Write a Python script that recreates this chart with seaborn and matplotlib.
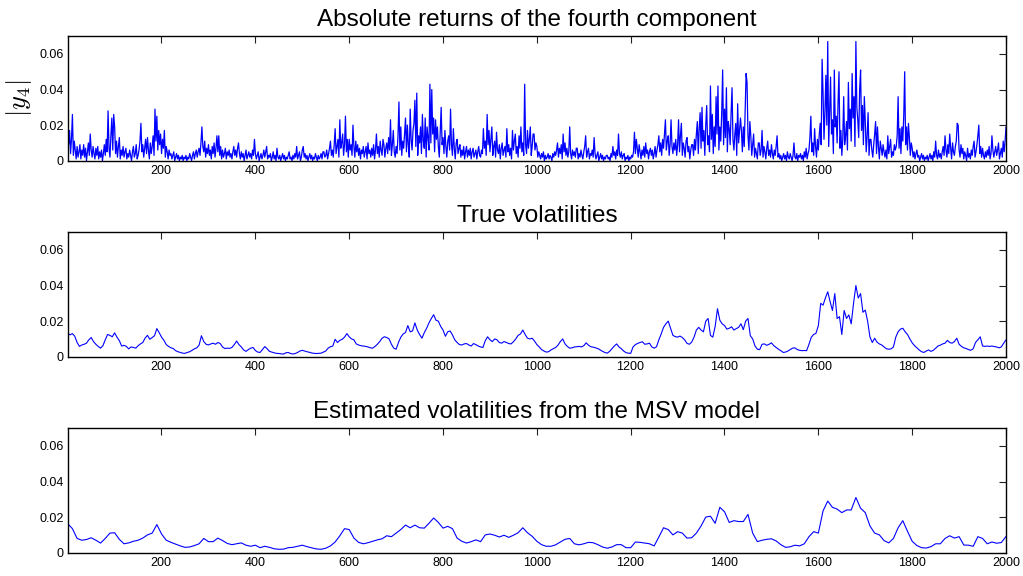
import numpy as np
import pandas as pd
import matplotlib
matplotlib.use("Agg")
import matplotlib.pyplot as plt
import seaborn as sns

# ---------------------------------------------------------------------------
# Series (absolute returns in units of 1e-3, volatilities in units of 1e-4)
# ---------------------------------------------------------------------------
abs_returns_milli = [
    28, 9, 17, 4, 12, 26, 3, 11, 6, 1, 8, 2, 5, 9, 1, 6, 3, 9, 2, 7, 0, 5, 10, 3, 15,
    6, 2, 8, 4, 1, 7, 3, 8, 1, 5, 2, 6, 0, 4, 9, 3, 12, 5, 28, 7, 2, 14, 24, 6, 26,
    19, 4, 11, 2, 8, 13, 1, 6, 3, 8, 2, 5, 7, 1, 4, 2, 6, 3, 0, 5, 8, 2, 4, 9, 1,
    3, 6, 11, 21, 5, 9, 2, 7, 12, 4, 13, 6, 1, 10, 4, 8, 14, 3, 29, 11, 25, 6, 17, 9, 15,
    4, 12, 7, 17, 2, 8, 5, 1, 6, 3, 4, 1, 3, 5, 0, 2, 4, 1, 3, 0, 2, 1, 3, 0, 2,
    1, 3, 0, 2, 1, 4, 2, 0, 3, 5, 1, 4, 6, 2, 5, 7, 3, 10, 19, 8, 5, 11, 2, 7, 4,
    9, 3, 6, 1, 8, 4, 10, 2, 7, 14, 5, 14, 3, 8, 1, 6, 2, 4, 7, 1, 5, 3, 6, 2, 4,
    1, 5, 8, 3, 6, 2, 7, 10, 4, 1, 5, 2, 4, 0, 3, 6, 1, 3, 5, 2, 4, 1, 6, 3, 12,
    4, 1, 3, 5, 0, 2, 4, 1, 3, 6, 2, 5, 8, 1, 3, 2, 4, 0, 2, 5, 1, 3, 0, 7, 2,
    1, 3, 0, 2, 4, 1, 3, 0, 2, 1, 3, 5, 1, 2, 0, 3, 1, 4, 2, 8, 1, 3, 5, 0, 2,
    6, 8, 2, 4, 1, 3, 0, 2, 4, 1, 3, 0, 2, 1, 4, 2, 0, 3, 1, 2, 4, 1, 5, 5, 2,
    3, 6, 1, 4, 7, 11, 3, 6, 2, 9, 18, 4, 8, 12, 2, 23, 7, 10, 15, 3, 9, 25, 5, 12, 2,
    12, 6, 9, 3, 20, 8, 2, 11, 5, 9, 3, 7, 1, 6, 4, 8, 2, 5, 8, 1, 10, 4, 6, 2, 7,
    3, 9, 1, 6, 15, 4, 8, 2, 11, 6, 3, 12, 9, 2, 7, 10, 4, 13, 6, 23, 3, 9, 17, 5, 2,
    8, 4, 14, 33, 6, 19, 3, 11, 7, 15, 24, 5, 20, 9, 2, 29, 12, 6, 17, 21, 34, 8, 38, 3, 14,
    10, 19, 4, 26, 11, 7, 24, 2, 19, 13, 6, 43, 10, 40, 15, 24, 5, 23, 12, 19, 8, 2, 16, 30, 9,
    13, 4, 17, 8, 2, 11, 14, 6, 29, 9, 3, 18, 7, 1, 10, 12, 4, 7, 9, 2, 6, 3, 8, 1, 5,
    8, 2, 6, 3, 7, 1, 5, 7, 2, 4, 6, 1, 5, 8, 3, 2, 6, 4, 18, 7, 11, 3, 26, 9, 17,
    5, 12, 19, 3, 8, 11, 2, 16, 6, 4, 9, 1, 7, 10, 3, 6, 8, 2, 18, 5, 9, 3, 7, 1, 17,
    6, 11, 15, 4, 8, 2, 14, 7, 19, 5, 10, 3, 43, 9, 4, 17, 7, 12, 19, 3, 8, 15, 15, 6, 10,
    8, 2, 5, 3, 1, 4, 2, 5, 0, 3, 1, 2, 4, 1, 3, 2, 0, 4, 2, 5, 3, 6, 10, 2, 7,
    4, 9, 1, 15, 5, 10, 3, 7, 2, 5, 19, 4, 1, 6, 3, 5, 2, 7, 7, 1, 4, 2, 6, 3, 1,
    5, 8, 14, 2, 5, 7, 1, 4, 3, 6, 2, 13, 4, 1, 3, 5, 0, 2, 4, 1, 3, 0, 2, 1, 3,
    3, 1, 2, 0, 4, 2, 8, 3, 5, 1, 6, 3, 15, 4, 2, 5, 1, 3, 4, 0, 2, 1, 3, 0, 2,
    1, 3, 2, 5, 16, 4, 12, 7, 2, 9, 5, 1, 6, 3, 8, 2, 10, 4, 6, 1, 5, 7, 3, 6, 1,
    4, 8, 2, 6, 9, 14, 5, 10, 3, 12, 7, 15, 23, 6, 11, 14, 3, 9, 23, 8, 4, 10, 6, 12, 3,
    9, 23, 5, 14, 21, 3, 10, 7, 2, 11, 13, 5, 8, 1, 6, 9, 9, 3, 12, 6, 15, 22, 4, 18, 27,
    7, 30, 11, 17, 3, 20, 31, 9, 14, 5, 42, 12, 26, 4, 19, 8, 36, 15, 42, 6, 19, 11, 27, 51, 9,
    29, 13, 41, 5, 22, 18, 9, 27, 41, 12, 6, 15, 21, 3, 32, 10, 17, 24, 17, 5, 19, 8, 28, 49, 44,
    14, 6, 22, 14, 3, 9, 15, 2, 7, 4, 1, 10, 10, 3, 6, 17, 2, 8, 5, 1, 7, 11, 3, 6, 2,
    9, 4, 1, 6, 3, 8, 14, 2, 4, 1, 3, 0, 2, 4, 1, 3, 0, 5, 2, 1, 4, 2, 0, 3, 10,
    2, 1, 4, 0, 3, 2, 4, 1, 3, 0, 5, 2, 7, 1, 4, 6, 13, 25, 5, 10, 3, 18, 8, 2, 12,
    6, 15, 21, 9, 57, 38, 12, 27, 48, 20, 67, 8, 27, 47, 15, 23, 4, 51, 19, 25, 10, 33, 50, 7, 17,
    3, 12, 36, 9, 14, 22, 6, 44, 18, 29, 11, 49, 24, 36, 8, 67, 30, 23, 13, 40, 51, 17, 31, 9, 36,
    22, 5, 14, 27, 3, 12, 12, 6, 2, 9, 15, 22, 4, 19, 8, 1, 11, 7, 3, 9, 5, 2, 6, 1, 14,
    4, 8, 12, 2, 5, 3, 9, 6, 8, 14, 36, 7, 18, 4, 19, 11, 25, 50, 9, 19, 6, 21, 13, 3, 10,
    7, 2, 5, 1, 4, 6, 2, 3, 0, 2, 4, 1, 3, 0, 2, 1, 3, 0, 2, 4, 1, 3, 0, 5, 2,
    11, 3, 1, 6, 2, 4, 1, 5, 8, 3, 14, 6, 2, 9, 4, 15, 7, 1, 10, 5, 3, 8, 11, 21, 20,
    6, 2, 9, 4, 7, 1, 5, 3, 0, 7, 2, 4, 1, 6, 3, 8, 11, 2, 5, 9, 14, 20, 4, 8, 2,
    7, 3, 1, 5, 2, 6, 3, 8, 1, 4, 14, 6, 2, 5, 8, 3, 6, 10, 1, 4, 7, 2, 11, 5, 11,
    19,
]

true_vol_e4 = [
    132, 123, 130, 115, 80, 58, 66, 70, 76, 95, 108, 85, 70, 58, 48, 62, 95, 125, 120, 112,
    134, 110, 90, 60, 64, 58, 44, 55, 52, 48, 62, 72, 80, 105, 120, 98, 108, 118, 158, 135,
    110, 92, 68, 58, 50, 46, 34, 28, 24, 20, 19, 24, 28, 36, 44, 50, 65, 118, 85, 70,
    66, 72, 76, 70, 80, 74, 55, 46, 48, 47, 52, 68, 88, 68, 55, 38, 30, 40, 48, 52,
    35, 26, 24, 40, 57, 45, 30, 26, 22, 19, 18, 16, 15, 22, 24, 18, 15, 18, 24, 32,
    36, 32, 28, 25, 21, 19, 18, 19, 20, 26, 32, 48, 56, 60, 98, 80, 92, 98, 110, 130,
    112, 100, 95, 72, 66, 62, 60, 58, 55, 50, 48, 58, 70, 85, 104, 112, 108, 100, 70, 48,
    42, 80, 110, 128, 136, 175, 140, 145, 190, 150, 125, 104, 135, 160, 190, 215, 236, 205, 200, 170,
    150, 115, 140, 145, 123, 95, 80, 68, 66, 72, 74, 66, 60, 74, 68, 60, 55, 52, 90, 112,
    95, 85, 100, 95, 80, 76, 85, 80, 74, 72, 84, 100, 120, 128, 150, 125, 104, 100, 104, 88,
    68, 55, 40, 32, 26, 28, 38, 45, 52, 65, 85, 100, 72, 58, 48, 50, 55, 56, 58, 55,
    62, 78, 65, 56, 54, 50, 46, 38, 30, 24, 20, 30, 45, 60, 72, 55, 45, 32, 23, 20,
    19, 55, 68, 75, 80, 84, 70, 72, 76, 55, 48, 56, 95, 128, 165, 185, 200, 160, 120, 113,
    110, 116, 108, 95,
    75, 70, 82, 110, 150, 165, 150, 140, 200, 215, 120, 110, 170, 270, 205, 185,
    175, 155, 160, 168, 150, 158, 165, 185, 152, 200, 215, 118, 100, 60, 42, 40, 70, 72, 64, 70,
    78, 62, 52, 42, 34, 24, 26, 32, 40, 48, 50, 40, 36, 34, 35, 34, 70, 110, 125, 132,
    175, 300, 290, 330, 365, 310, 260, 355, 215, 225, 125, 260, 215, 235, 185, 300, 400, 330, 355, 250,
    262, 200, 110, 80, 104, 82, 72, 66, 55, 45, 42, 44, 55, 110, 140, 155, 160, 140, 125, 100,
    78, 62, 50, 38, 28, 24, 32, 38, 30, 36, 48, 60, 65, 72, 76, 92, 80, 76, 85, 104,
    70, 58, 50, 46, 40, 36, 45, 80, 95, 112, 60, 58, 60, 58, 60, 57, 55, 50, 55, 76,
    95,
]

est_vol_e4 = [
    163, 135, 80, 70, 74, 84, 70, 54, 80, 110, 112, 75, 50, 55, 64, 70, 82, 100, 110, 158,
    105, 70, 58, 48, 38, 30, 32, 40, 50, 80, 62, 62, 82, 68, 52, 45, 50, 55, 42, 36,
    42, 28, 36, 30, 22, 19, 20, 28, 30, 36, 42, 34, 27, 21, 19, 25, 38, 60, 95, 135,
    130,
    82, 58, 50, 56, 64, 72, 78, 95, 90, 110, 130, 155, 140, 155, 140, 138, 165, 195, 170, 138,
    148, 135, 82, 64, 54, 62, 72, 62, 100, 105, 98, 88, 98, 86, 98, 112, 140, 112, 92, 64,
    45, 36, 36, 44, 60, 75, 80, 50, 44, 50, 58, 56, 45, 32, 25, 32, 45, 45, 28, 28,
    60, 58, 54, 50, 38, 88, 140, 130, 100, 118, 110, 82,
    84, 110, 150, 200, 205, 165, 255, 230, 170, 180, 175, 175, 215, 110, 62, 70, 75, 78, 66, 45,
    30, 33, 42, 38, 50, 90, 118, 110, 235, 290, 255, 245, 225, 240, 240, 310, 250, 225, 150, 110,
    100, 68, 55, 80, 140, 180, 120, 64, 40, 28, 26, 34, 50, 50, 80, 95, 82, 90, 43, 42,
    36, 90, 80, 50, 60, 53, 57, 91,
]

titles = [
    "Absolute returns of the fourth component",
    "True volatilities",
    "Estimated volatilities from the MSV model",
]
xtick_values = [200, 400, 600, 800, 1000, 1200, 1400, 1600, 1800, 2000]
ytick_values = [0, 0.02, 0.04, 0.06]
ytick_labels = ["0", "0.02", "0.04", "0.06"]

# ---------------------------------------------------------------------------
sns.set_style("white")
plt.rcParams["font.family"] = ["Liberation Sans", "DejaVu Sans"]
plt.rcParams["mathtext.fontset"] = "cm"


def series_frame(values, scale):
    y = np.asarray(values, dtype=float) * scale
    t = np.linspace(1, 2000, len(y))
    return pd.DataFrame({"t": t, "value": y})


frames = [
    series_frame(abs_returns_milli, 1e-3),
    series_frame(true_vol_e4, 1e-4),
    series_frame(est_vol_e4, 1e-4),
]
line_widths = [0.9, 0.8, 0.8]

fig = plt.figure(figsize=(10.23, 5.76), dpi=100)
bottoms = [0.7210, 0.3807, 0.0405]
axes = [fig.add_axes([0.0662, b, 0.9172, 0.2162]) for b in bottoms]

for ax, df, title, lw in zip(axes, frames, titles, line_widths):
    sns.lineplot(data=df, x="t", y="value", ax=ax, color="#0000ff",
                 linewidth=lw, estimator=None, sort=False)
    ax.set_xlim(1, 2000)
    ax.set_ylim(0, 0.07)
    ax.set_xticks(xtick_values)
    ax.set_xticklabels([str(v) for v in xtick_values])
    ax.set_yticks(ytick_values)
    ax.set_yticklabels(ytick_labels)
    ax.set_xlabel("")
    ax.set_ylabel("")
    ax.tick_params(direction="in", length=5, width=0.8, top=True, right=True,
                   labelsize=9, pad=3, colors="#222222", labelcolor="black")
    for side in ["top", "bottom", "left", "right"]:
        ax.spines[side].set_visible(True)
        ax.spines[side].set_color("black")
        ax.spines[side].set_linewidth(1.0)
    ax.set_title(title, fontsize=17.5, pad=7, color="black")

axes[0].set_ylabel(r"$|y_4|$", fontsize=19, color="black")
axes[0].yaxis.set_label_coords(-0.036, 0.5)

fig.savefig("out.png", dpi=100)
